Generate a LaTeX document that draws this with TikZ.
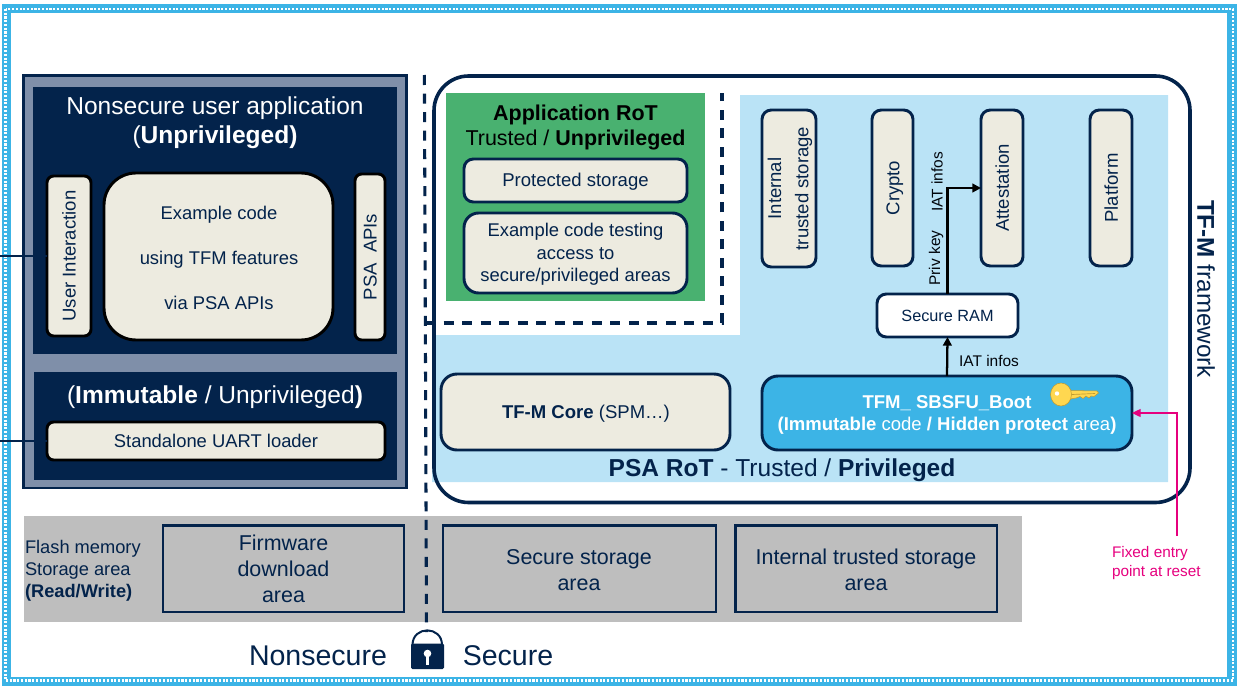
\documentclass[tikz,border=0pt]{standalone}
\usepackage{fontspec}
\usepackage{graphicx}
\setmainfont{Liberation Sans}
\usetikzlibrary{arrows.meta}
\definecolor{navy}{HTML}{03234B}
\definecolor{frameblue}{HTML}{3CB4E6}
\definecolor{paleblue}{HTML}{BAE3F6}
\definecolor{beige}{HTML}{EDEBE0}
\definecolor{greyband}{HTML}{BEBEBE}
\definecolor{greenrot}{HTML}{49B170}
\definecolor{slateblue}{HTML}{7F8FA9}
\definecolor{pinkline}{HTML}{E6007E}
\definecolor{keygold}{HTML}{FFD750}
\definecolor{keyedge}{HTML}{C09A30}
\newcommand\fpx[2]{\fontsize{#1}{#2}\selectfont}
\newcommand\bx[7][]{\node[#6,#1,minimum width={(#4-#2)*0.75pt},minimum height={(#5-#3)*0.75pt}] (#7) at ({(#2+#4)/2},{(#3+#5)/2})}
\newcommand\vtext[1]{\hspace*{3.6pt}\rotatebox{90}{\begin{tabular}{@{}c@{}}#1\end{tabular}}}
\tikzset{
  x=0.75pt,y=-0.75pt,
  anynode/.style={inner sep=0pt,outer sep=0pt,align=center,text=navy},
  panel/.style={anynode,fill=navy,draw=none},
  cream/.style={anynode,fill=beige,draw=black,line width=2.2pt,rounded corners=5pt,font=\fpx{13.9pt}{16pt}},
  svc/.style={anynode,fill=beige,draw=navy,line width=2.2pt,rounded corners=7pt,font=\fpx{13.9pt}{16.9pt}},
  svctext/.style={anynode,font=\fpx{13.9pt}{16.9pt}},
  storage/.style={anynode,draw=navy,line width=2pt},
  storetext/.style={anynode,font=\fpx{16.1pt}{19.5pt}},
  label/.style={anynode,font=\fpx{11.6pt}{13.5pt}},
  conn/.style={line width=1.7pt,-{Triangle[length=6.5pt,width=6.5pt]}},
  wire/.style={draw=navy,line width=0.8pt},
  divider/.style={draw=navy,line width=2.3pt,dash pattern=on 7.5pt off 6.4pt},
}
\begin{document}
\begin{tikzpicture}
\useasboundingbox (0,0) rectangle (1245,692);
% page frame
\draw[frameblue,line width=7pt] (6.5,8.5) rectangle (1232,681.5);
\draw[white,line width=2pt,dash pattern=on 1.6pt off 1.2pt] (5.5,9) rectangle (1233,680.5);
% light-blue PSA area
\fill[paleblue] (740,95) -- (1168,95) -- (1168,482) -- (432,482) -- (432,335) -- (740,335) -- cycle;
% grey band
\bx{24}{516}{1022}{622}{anynode,fill=greyband}{band} {};
% non secure panel
\bx{23.5}{75.5}{406.5}{488}{anynode,fill=slateblue,draw=navy,line width=1.6pt}{nsouter} {};
\bx{33}{87}{397}{354}{panel}{nstop} {};
\bx{34}{372}{397}{480}{panel}{nsbottom} {};
\node[anynode,text=white,font=\fpx{18.4pt}{21.7pt}] (nstitle) at (215,123) {Nonsecure user application\\(\textbf{Unprivileged)}};
\node[anynode,text=white,font=\fpx{18.4pt}{22pt}] (immtitle) at (215,397) {(\textbf{Immutable} / Unprivileged\textbf{)}};
\bx{47}{176}{91}{336}{cream}{ui} {\vtext{User Interaction}};
\bx[rounded corners=24pt]{104}{173}{333}{340}{cream}{example} {};
\node[anynode,font=\fpx{13.8pt}{33.7pt}] (extext) at (219,257.5) {Example code\\using TFM features\\via PSA APIs};
\bx{355}{174}{385}{340}{cream}{psa} {\vtext{PSA\ \ APIs}};
\bx[font=\fpx{13.8pt}{16pt}]{47}{422}{385}{460}{cream}{uart} {Standalone UART loader};
\coordinate (uileft) at (0,256);
\coordinate (uartleft) at (0,441);
\draw[wire] (uileft) -- (ui.west);
\draw[wire] (uartleft) -- (uart.west);
% application RoT
\bx{446}{93}{705}{301}{anynode,fill=greenrot}{approt} {};
\node[anynode,text=black,font=\fpx{16.1pt}{18.7pt}] (apptitle) at (575.5,127.5) {\textbf{Application RoT}\\Trusted / \textbf{Unprivileged}};
\bx{464}{159}{687}{202}{svc}{protected} {};
\node[svctext] (protectedtext) at (575.5,182) {Protected storage};
\bx[rounded corners=11pt]{464}{213}{687}{293}{svc}{extest} {};
\node[anynode,font=\fpx{13.8pt}{16.9pt}] (extesttext) at (575.5,254.5) {Example code testing\\access to\\secure/privileged areas};
% TF-M boundary
\draw[navy,line width=2.7pt,rounded corners=26pt] (434,76) rectangle (1190,502.5);
% services
\bx{762}{110}{816}{267}{svc}{its} {\hspace*{1.8pt}\rotatebox{90}{\begin{tabular}{@{}c@{}}Internal\\[3.5pt]trusted storage\end{tabular}}};
\bx{872}{110}{913}{266}{svc}{crypto} {\vtext{Crypto}};
\bx{981}{110}{1023}{266}{svc}{attest} {\vtext{Attestation}};
\bx{1090}{110}{1132}{266}{svc}{platform} {\vtext{Platform}};
\bx[font=\fpx{12.2pt}{16pt}]{877}{294}{1018}{337}{svc,fill=white}{ram} {Secure RAM};
\bx[rounded corners=12pt]{762}{376}{1132}{450}{svc,fill=frameblue,text=white}{boot} {};
\node[anynode,text=white,font=\fpx{13.9pt}{17pt}] (boottext) at (947,415) {\textbf{TFM\_ SBSFU\_Boot}\\\textbf{(Immutable} code \textbf{/ Hidden protect} area\textbf{)}};
\bx[rounded corners=12pt]{441}{374}{730}{450}{svc}{core} {};
\node[svctext] (coretext) at (586,414) {\textbf{TF-M Core} (SPM…)};
% key
\path[fill=keygold,draw=keyedge,line width=0.4pt]
  (1070,390.5) -- (1097,391) -- (1098.5,393) -- (1094,396.5) -- (1091,396) -- (1089,398) -- (1086,396) -- (1083,398.5) -- (1080,396.5) -- (1076,398) -- (1070,399) -- cycle;
\path[fill=keygold,draw=keyedge,line width=0.4pt] (1061,394.5) ellipse [x radius=10.5,y radius=11.5];
\fill[white] (1057,393.5) circle (2.2);
\draw[keyedge,line width=0.5pt] (1072,394.5) -- (1095,393.5);
% connectors
\draw[conn] (boot.north) -- (ram.south);
\draw[conn] (ram.north) |- (attest.west);
\coordinate (pinkstart) at (1177,536);
\draw[pinkline,line width=1pt,-{Triangle[length=6.5pt,width=6pt]}] (pinkstart) |- (boot.east);
% labels
\node[label,text=black!85!navy] (iat1) at (989,361) {IAT infos};
\node[label,text=black!85!navy,rotate=90] (privkey) at (936,258) {Priv key};
\node[label,text=black!85!navy,rotate=90] (iat2) at (937,182) {IAT infos};
\node[anynode,font=\fpx{18.4pt}{22pt}] (psartot) at (782,470) {\textbf{PSA RoT} - Trusted / \textbf{Privileged}};
\node[anynode,rotate=-90,font=\fpx{18.2pt}{22pt}] (tfm) at (1206,289) {\textbf{TF-M} framework};
% storage band
\node[anynode,align=left,anchor=west,font=\fpx{13.7pt}{16.4pt}] (flash) at (25,571) {Flash memory\\Storage area\\\textbf{(Read/Write)}};
\bx[storetext]{163}{525.5}{404}{612}{storage}{fw} {Firmware\\download\\area};
\bx{443}{525.5}{716}{612}{storage}{secst} {};
\bx{735.5}{525.5}{997}{612}{storage}{intst} {};
\node[storetext] (secsttext) at (579,570.5) {Secure storage\\area};
\node[storetext] (intsttext) at (866,570) {Internal trusted storage\\area};
% divider
\coordinate (divtop) at (424.4,75);
\coordinate (divbottom) at (426.5,632);
\draw[divider] (divtop) -- (divbottom);
\coordinate (hstart) at (425,323);
\coordinate (hcorner) at (722,323);
\coordinate (hend) at (722,93);
\draw[divider] (hstart) -- (hcorner) -- (hend);
% lock
\path[fill=navy,rounded corners=1pt] (411,643.5) rectangle (444,669);
\draw[navy,line width=1.5pt] (412.5,645) .. controls (412.5,625.5) and (442,625.5) .. (442,645);
\fill[white] (427.5,653.5) circle (3.8);
\fill[white] (426,655) rectangle (429,664.5);
\node[anynode,font=\fpx{21.4pt}{24pt}] (nonsec) at (318,656) {Nonsecure};
\node[anynode,font=\fpx{21.4pt}{24pt}] (sec) at (508,656) {Secure};
\node[anynode,align=left,anchor=west,text=pinkline,font=\fpx{11.5pt}{14pt}] (fixed) at (1112,563) {Fixed entry\\point at reset};
\end{tikzpicture}
\end{document}
